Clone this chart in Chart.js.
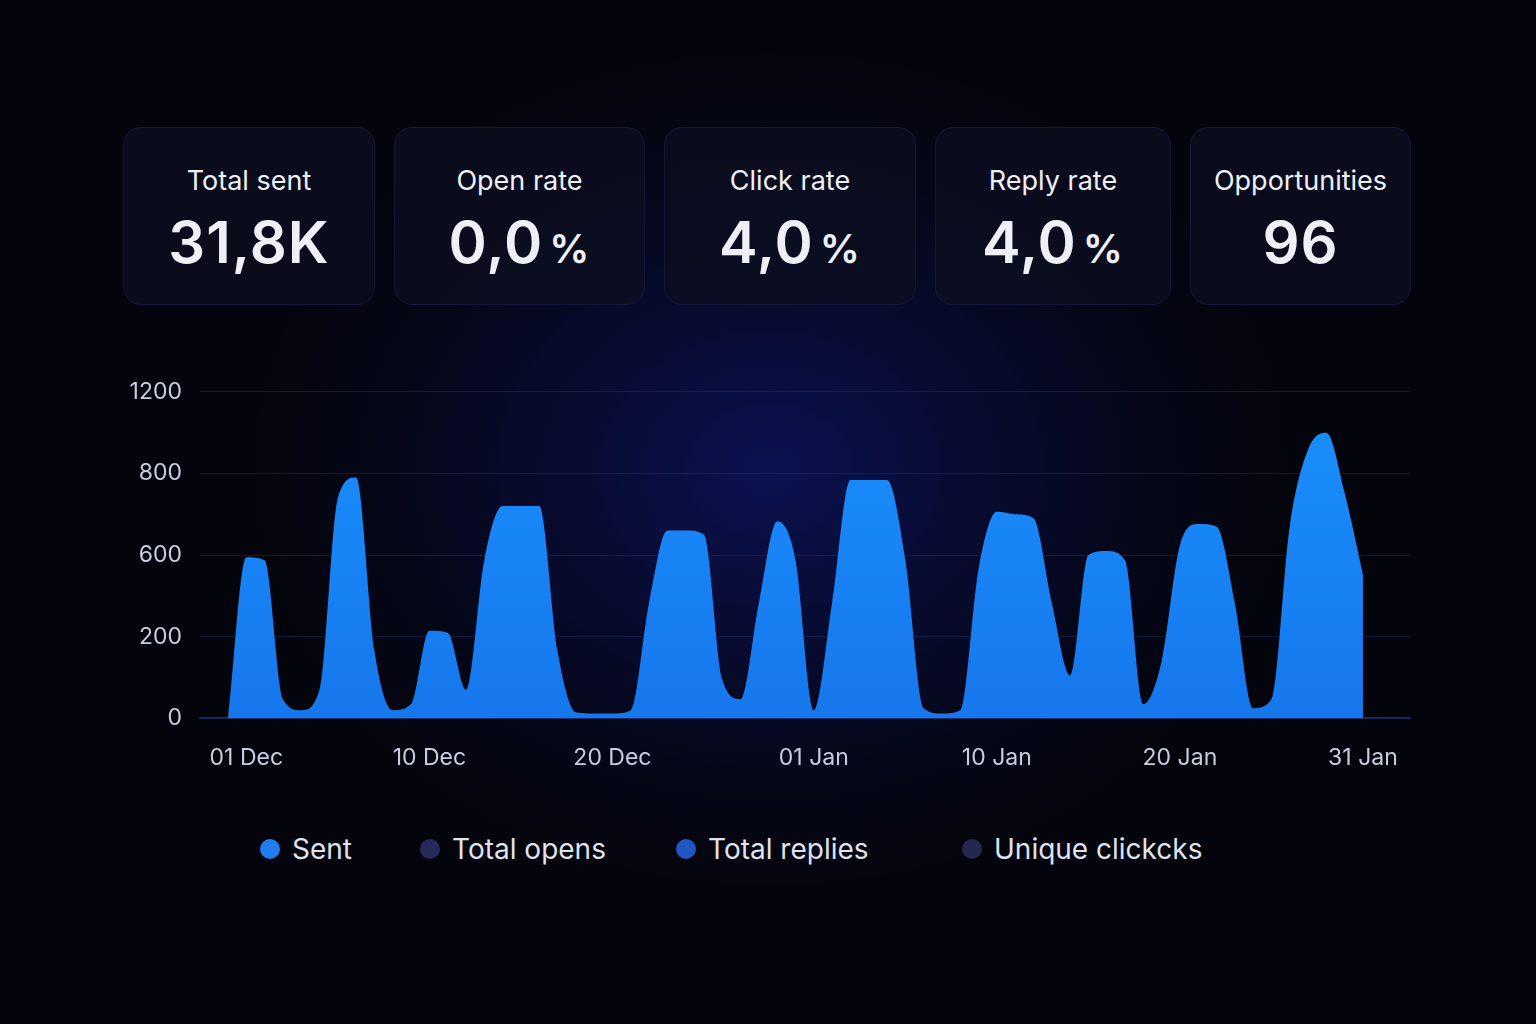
<!DOCTYPE html>
<html><head><meta charset="utf-8">
<script src="https://cdn.jsdelivr.net/npm/chart.js@4"></script>
<style>
html,body{margin:0;width:1536px;height:1024px;overflow:hidden;font-family:Inter,"Noto Sans",sans-serif;}
body{background:radial-gradient(ellipse 520px 420px at 770px 470px,#0b1150 0%,#080c34 35%,#05071a 70%,#04050c 100%);}
.card{position:absolute;top:127px;height:178px;background:rgba(12,14,32,0.85);border:1.5px solid #14173a;border-radius:18px;box-sizing:border-box;text-align:center;color:#eef0f6;}
.card .t{margin-top:36px;font-size:27px;}
.card .v{margin-top:10px;font-size:58px;font-weight:600;letter-spacing:1px;}
.card .v span{font-size:40px;margin-left:6px;}
#wrap{position:absolute;left:100px;top:360px;width:1330px;height:430px;}
.leg{position:absolute;top:832px;font-size:28px;color:#dfe3ee;display:flex;align-items:center;}
.leg i{display:inline-block;width:20px;height:20px;border-radius:50%;margin-right:12px;}
</style></head><body>
<div id="cards"></div>
<div id="wrap"><canvas id="c"></canvas></div>
<div class="leg" style="left:260px"><i style="background:#1e7ef0"></i>Sent</div>
<div class="leg" style="left:420px"><i style="background:#262a5a"></i>Total opens</div>
<div class="leg" style="left:676px"><i style="background:#2157c0"></i>Total replies</div>
<div class="leg" style="left:962px"><i style="background:#24284e"></i>Unique clickcks</div>
<script>
const cardTitles=["Total sent","Open rate","Click rate","Reply rate","Opportunities"];
const cardValues=["31,8K","0,0","4,0","4,0","96"];
const cardUnits=["","%","%","%",""];
const cardX=[[123,375],[394,645],[664,916],[935,1171],[1190,1411]];
const yTickLabels=[0,200,600,800,1200];
const xTickIdx=[1,11,21,32,42,52,62];
const xTickLabels=["01 Dec","10 Dec","20 Dec","01 Jan","10 Jan","20 Jan","31 Jan"];
const sent=[0,590,575,47,20,70,740,790,165,20,35,230,220,70,575,720,720,720,165,15,12,12,20,365,660,660,650,95,47,365,682,575,20,365,784,784,784,575,25,12,20,530,706,700,690,365,105,600,610,575,35,140,624,676,670,365,25,47,670,916,1000,752,505];

const cards=document.getElementById('cards');
cardTitles.forEach((t,i)=>{const d=document.createElement('div');d.className='card';
d.style.left=cardX[i][0]+'px';d.style.width=(cardX[i][1]-cardX[i][0])+'px';
d.innerHTML='<div class="t">'+t+'</div><div class="v">'+cardValues[i]+(cardUnits[i]?'<span>'+cardUnits[i]+'</span>':'')+'</div>';cards.appendChild(d);});

// map real value onto the evenly spaced displayed axis
function toAxis(v){for(let k=1;k<yTickLabels.length;k++){if(v<=yTickLabels[k])return (k-1)+(v-yTickLabels[k-1])/(yTickLabels[k]-yTickLabels[k-1]);}return yTickLabels.length-1;}
const ctx=document.getElementById('c').getContext('2d');
new Chart(ctx,{type:'line',
data:{datasets:[{data:sent.map((v,i)=>({x:i,y:toAxis(v)})),fill:'origin',tension:0.4,cubicInterpolationMode:'monotone',borderWidth:0,pointRadius:0,
backgroundColor:(c)=>{const a=c.chart.chartArea;if(!a)return '#1a8cff';const g=c.chart.ctx.createLinearGradient(0,a.top,0,a.bottom);g.addColorStop(0,'#1a90ff');g.addColorStop(1,'#1677ec');return g;}}]},
options:{responsive:true,maintainAspectRatio:false,animation:false,
layout:{padding:{top:8,right:20,bottom:0,left:0}},
plugins:{legend:{display:false},tooltip:{enabled:false}},
scales:{
x:{type:'linear',min:-1.53,max:64.57,
afterBuildTicks:(s)=>{s.ticks=xTickIdx.map(v=>({value:v}));},
ticks:{autoSkip:false,maxRotation:0,color:'#c8cde0',font:{size:23,family:'Inter'},padding:18,callback:(v)=>{const k=xTickIdx.indexOf(v);return k>=0?xTickLabels[k]:'';}},
grid:{display:false},border:{color:'#1d2558',width:2}},
y:{min:0,max:4,afterFit:(s)=>{s.width=100;},
ticks:{stepSize:1,color:'#c8cde0',font:{size:23,family:'Inter'},padding:18,callback:(v)=>yTickLabels[v]},
grid:{color:'rgba(40,50,110,0.45)',drawTicks:false},border:{display:false}}}}});
</script></body></html>
